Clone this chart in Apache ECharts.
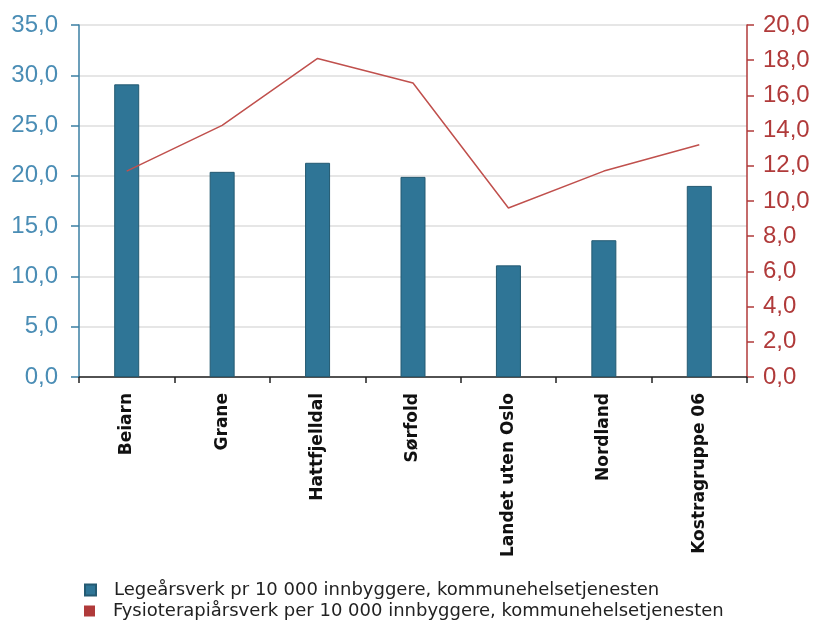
<!DOCTYPE html>
<html><head><meta charset="utf-8">
<script src="https://cdn.jsdelivr.net/npm/echarts@6/dist/echarts.min.js"></script>
<style>html,body{margin:0;padding:0;background:#fff}#c{width:814px;height:627px}</style>
</head><body><div id="c"></div>
<script>
const categories = ["Beiarn","Grane","Hattfjelldal","Sørfold","Landet uten Oslo","Nordland","Kostragruppe 06"];
const legeValues = [29.1, 20.4, 21.3, 19.9, 11.1, 13.6, 19.0];
const fysioValues = [11.7, 14.3, 18.1, 16.7, 9.6, 11.7, 13.2];
const seriesNames = ["Legeårsverk pr 10 000 innbyggere, kommunehelsetjenesten","Fysioterapiårsverk per 10 000 innbyggere, kommunehelsetjenesten"];
const fmt = v => v.toFixed(1).replace('.', ',');
const legendBase = {orient:'horizontal',left:79,itemWidth:11,itemHeight:11,icon:'rect',
  textStyle:{fontSize:18,color:'#222',fontFamily:'DejaVu Sans',padding:[0,0,0,13]}};
const chart = echarts.init(document.getElementById('c'));
chart.setOption({
  animation:false,
  textStyle:{fontFamily:'Liberation Sans, Arial, sans-serif'},
  grid:{left:79,right:67,top:25,bottom:250},
  legend:[
    Object.assign({}, legendBase, {top:576, data:[seriesNames[0]]}),
    Object.assign({}, legendBase, {top:597, data:[seriesNames[1]]})
  ],
  xAxis:{type:'category',data:categories,
    axisLine:{lineStyle:{color:'#222',width:1.5}},
    axisTick:{show:true,length:6,lineStyle:{color:'#222',width:1.5}},
    axisLabel:{rotate:90,fontSize:17,fontWeight:'bold',fontFamily:'DejaVu Sans',color:'#111',margin:16}},
  yAxis:[
    {type:'value',min:0,max:35,interval:5,position:'left',
     axisLine:{show:true,lineStyle:{color:'#3b7fa3',width:1.5}},
     axisTick:{show:true,length:8,lineStyle:{color:'#3b7fa3',width:1.5}},
     axisLabel:{fontSize:24,color:'#4a8db5',formatter:fmt,margin:21},
     splitLine:{show:true,lineStyle:{color:'#dedede',width:1.5}}},
    {type:'value',min:0,max:20,interval:2,position:'right',
     axisLine:{show:true,lineStyle:{color:'#b03a3a',width:1.5}},
     axisTick:{show:true,length:7,lineStyle:{color:'#b03a3a',width:1.5}},
     axisLabel:{fontSize:24,color:'#b03a3a',formatter:fmt,margin:16},
     splitLine:{show:false}}
  ],
  series:[
    {name:seriesNames[0],type:'bar',yAxisIndex:0,data:legeValues,barWidth:25,
     itemStyle:{color:'#2f7596',borderColor:'#245a72',borderWidth:1}},
    {name:seriesNames[1],type:'line',yAxisIndex:1,data:fysioValues,symbol:'none',
     lineStyle:{color:'#c0504d',width:1.5},itemStyle:{color:'#b03a3a'}}
  ]
});
</script></body></html>
